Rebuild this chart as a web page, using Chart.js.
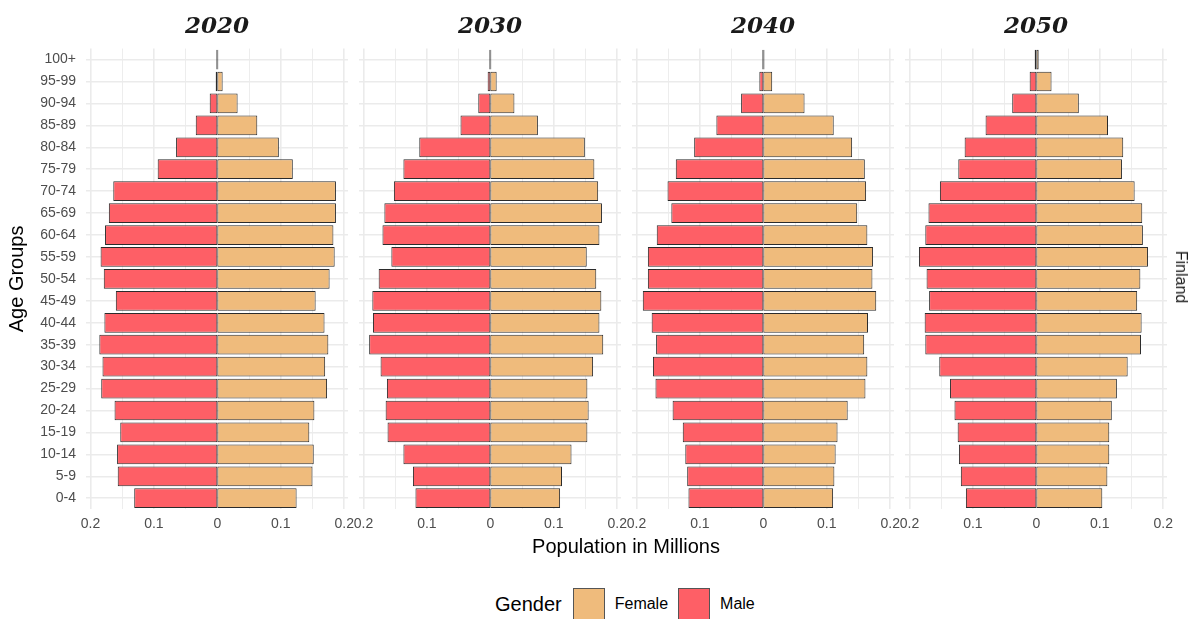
<!DOCTYPE html>
<html>
<head>
<meta charset="utf-8">
<script src="https://cdn.jsdelivr.net/npm/chart.js@4.4.1/dist/chart.umd.min.js"></script>
<style>
  body { margin: 0; background: #fff; font-family: "Liberation Sans", Arial, sans-serif; }
  #wrap { position: relative; width: 1193px; height: 619px; overflow: hidden; }
  canvas { position: absolute; top: 0; }
  .xtitle { position: absolute; left: 426px; width: 400px; top: 535px; text-align: center; font-size: 20px; color: #000; }
  .strip { position: absolute; left: 1181px; top: 277px; transform: translate(-50%, -50%) rotate(90deg); font-size: 16px; color: #1a1a1a; white-space: nowrap; }
  .legend { position: absolute; top: 588px; left: 495px; height: 32px; display: flex; align-items: center; }
  .legend .ttl { font-size: 20px; margin-right: 11px; }
  .legend .key { width: 30px; height: 30px; border: 1px solid #555; margin-right: 10px; }
  .legend .lab { font-size: 16px; margin-right: 10px; }
</style>
</head>
<body>
<div id="wrap">
  <canvas id="p0" width="368" height="540" style="left:0px"></canvas>
  <canvas id="p1" width="302" height="540" style="left:339px"></canvas>
  <canvas id="p2" width="302" height="540" style="left:612px"></canvas>
  <canvas id="p3" width="302" height="540" style="left:885px"></canvas>
  <div class="xtitle">Population in Millions</div>
  <div class="strip">Finland</div>
  <div class="legend" id="legend"></div>
</div>
<script>
// age groups, bottom to top
const ageGroups = ['0-4','5-9','10-14','15-19','20-24','25-29','30-34','35-39','40-44','45-49',
  '50-54','55-59','60-64','65-69','70-74','75-79','80-84','85-89','90-94','95-99','100+'];

const years = ['2020', '2030', '2040', '2050'];

// population in millions (male shown to the left)
const male2020 = [0.131,0.157,0.158,0.153,0.162,0.183,0.181,0.186,0.178,0.160,0.179,0.184,0.177,0.171,0.164,0.094,0.065,0.034,0.012,0.0026,0.0002];
const female2020 = [0.125,0.150,0.152,0.145,0.153,0.173,0.170,0.175,0.169,0.155,0.177,0.185,0.183,0.187,0.187,0.119,0.097,0.063,0.032,0.0084,0.001];

const male2030 = [0.118,0.122,0.137,0.162,0.165,0.163,0.173,0.191,0.185,0.186,0.176,0.156,0.170,0.167,0.152,0.137,0.112,0.047,0.019,0.0042,0.0003];
const female2030 = [0.110,0.113,0.128,0.153,0.155,0.153,0.162,0.178,0.172,0.175,0.167,0.152,0.172,0.176,0.170,0.164,0.149,0.075,0.038,0.010,0.0012];

const male2040 = [0.118,0.120,0.123,0.127,0.143,0.170,0.174,0.169,0.176,0.190,0.182,0.182,0.168,0.145,0.151,0.138,0.109,0.074,0.035,0.0063,0.0008];
const female2040 = [0.110,0.112,0.114,0.117,0.133,0.161,0.164,0.159,0.165,0.178,0.172,0.173,0.164,0.148,0.162,0.160,0.140,0.111,0.065,0.014,0.0018];

const male2050 = [0.111,0.119,0.122,0.124,0.129,0.136,0.153,0.175,0.176,0.169,0.173,0.185,0.175,0.170,0.152,0.123,0.113,0.080,0.038,0.0105,0.0026];
const female2050 = [0.104,0.112,0.115,0.115,0.119,0.127,0.144,0.165,0.166,0.159,0.164,0.176,0.168,0.167,0.155,0.135,0.137,0.113,0.067,0.024,0.0037];

const maleByYear = [male2020, male2030, male2040, male2050];
const femaleByYear = [female2020, female2030, female2040, female2050];

const xTicks = [-0.2, -0.15, -0.1, -0.05, 0, 0.05, 0.1, 0.15, 0.2];
const xTickLabels = ['0.2', '', '0.1', '', '0', '', '0.1', '', '0.2'];

const genders = ['Female', 'Male'];
const genderColors = { Female: '#EFBB7C', Male: '#FE5F66' };

const gridColor = '#EBEBEB';
const tickColor = '#4D4D4D';
const barEdge = '#2b2b2b';

function barSet(label, data) {
  return {
    label: label,
    data: data,
    backgroundColor: genderColors[label],
    borderColor: barEdge,
    borderWidth: 1,
    borderSkipped: false,
    inflateAmount: 0,
    minBarLength: 1,
    barPercentage: 0.9,
    categoryPercentage: 1.0
  };
}

function makePanel(i) {
  const first = i === 0;
  return new Chart(document.getElementById('p' + i), {
    type: 'bar',
    data: {
      labels: ageGroups,
      datasets: [
        barSet('Male', maleByYear[i].map(v => -v)),
        barSet('Female', femaleByYear[i])
      ]
    },
    options: {
      indexAxis: 'y',
      responsive: false,
      animation: false,
      layout: { padding: { left: first ? 0 : 20, right: 20, top: 0, bottom: 0 } },
      plugins: {
        legend: { display: false },
        tooltip: { enabled: false },
        title: {
          display: true,
          text: years[i],
          fullSize: false,
          color: '#1a1a1a',
          font: { family: 'DejaVu Serif', size: 23, weight: 'bold', style: 'italic' },
          padding: { top: 13, bottom: 8 }
        }
      },
      scales: {
        x: {
          stacked: true,
          min: -0.207,
          max: 0.206,
          afterBuildTicks: s => { s.ticks = xTicks.map(v => ({ value: v })); },
          ticks: {
            autoSkip: false,
            maxRotation: 0,
            padding: 7,
            color: tickColor,
            font: { family: 'Liberation Sans', size: 14 },
            callback: (v, idx) => xTickLabels[idx]
          },
          grid: {
            color: gridColor,
            // zero line hidden so the bars meet at the axis (bars cover it anyway)
            lineWidth: ctx => (ctx.index === 4 ? 0 : (ctx.index % 2 === 0 ? 1.6 : 0.9)),
            drawTicks: false
          },
          border: { display: false }
        },
        y: {
          stacked: true,
          reverse: true,
          afterFit: s => { s.width = first ? 86 : 0; },
          ticks: {
            display: first,
            padding: 10,
            color: tickColor,
            font: { family: 'Liberation Sans', size: 14 }
          },
          title: {
            display: first,
            text: 'Age Groups',
            color: '#000',
            font: { family: 'Liberation Sans', size: 20 },
            padding: { top: 5, bottom: 0 }
          },
          grid: { color: gridColor, lineWidth: 1.6, offset: false, drawTicks: false },
          border: { display: false }
        }
      }
    }
  });
}

years.forEach((y, i) => makePanel(i));

// legend
const legend = document.getElementById('legend');
legend.innerHTML = '<span class="ttl">Gender</span>' + genders.map(g =>
  '<span class="key" style="background:' + genderColors[g] + '"></span><span class="lab">' + g + '</span>'
).join('');
</script>
</body>
</html>
